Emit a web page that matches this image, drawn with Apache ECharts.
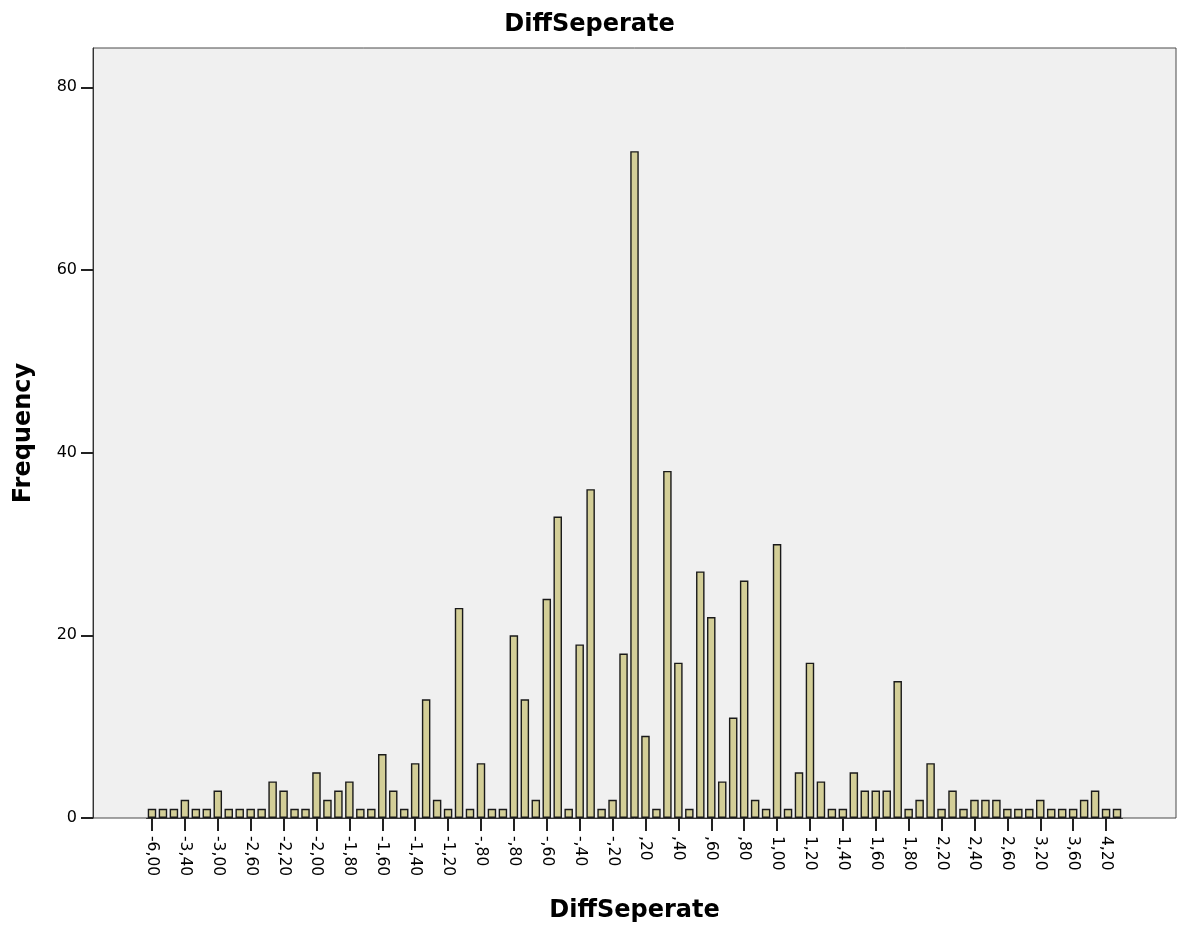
<!DOCTYPE html>
<html>
<head>
<meta charset="utf-8">
<script src="https://cdn.jsdelivr.net/npm/echarts@6/dist/echarts.min.js"></script>
<style>
  html, body { margin: 0; padding: 0; background: #ffffff; }
  #chart { width: 1179px; height: 931px; }
</style>
</head>
<body>
<div id="chart"></div>
<script>
// Tick labels shown under every third bar
const tickLabels = ['-6,00','-3,40','-3,00','-2,60','-2,20','-2,00','-1,80','-1,60','-1,40','-1,20',
  '-,80','-,80','-,60','-,40','-,20',',20',',40',',60',',80','1,00',
  '1,20','1,40','1,60','1,80','2,20','2,40','2,60','3,20','3,60','4,20'];

// Frequency of each distinct value (89 bars, left to right)
const frequencies = [
  1, 1, 1, 2, 1, 1, 3, 1, 1, 1,
  1, 4, 3, 1, 1, 5, 2, 3, 4, 1,
  1, 7, 3, 1, 6, 13, 2, 1, 23, 1,
  6, 1, 1, 20, 13, 2, 24, 33, 1, 19,
  36, 1, 2, 18, 73, 9, 1, 38, 17, 1,
  27, 22, 4, 11, 26, 2, 1, 30, 1, 5,
  17, 4, 1, 1, 5, 3, 3, 3, 15, 1,
  2, 6, 1, 3, 1, 2, 2, 2, 1, 1,
  1, 2, 1, 1, 1, 2, 3, 1, 1
];

const yTicks = [0, 20, 40, 60, 80];

const categories = frequencies.map((_, i) => 'bin' + i);

const FONT = '"DejaVu Sans", Verdana, sans-serif';
const chart = echarts.init(document.getElementById('chart'), null, { renderer: 'canvas' });

chart.setOption({
  backgroundColor: '#ffffff',
  animation: false,
  title: {
    text: 'DiffSeperate',
    left: 'center',
    top: 8,
    textStyle: { fontFamily: FONT, fontSize: 24, fontWeight: 'bold', color: '#000' }
  },
  grid: [
    { left: 93, right: 3, top: 48, bottom: 113, show: true, backgroundColor: '#f0f0f0',
      borderColor: '#4a4a4a', borderWidth: 1, containLabel: false, outerBoundsMode: 'none' },
    { left: 146.5, right: 56.5, top: 48, bottom: 113, containLabel: false, outerBoundsMode: 'none' }
  ],
  xAxis: [
    { type: 'value', gridIndex: 0, min: 0, max: 1, show: false },
    {
      type: 'category', gridIndex: 1, data: categories,
      axisLine: { show: true, onZero: false, lineStyle: { color: '#333', width: 1 } },
      axisTick: {
        show: true, alignWithLabel: true, length: 13,
        interval: (i) => i % 3 === 0,
        lineStyle: { color: '#222', width: 2 }
      },
      axisLabel: {
        rotate: -90, margin: 18,
        interval: (i) => i % 3 === 0,
        formatter: (v, i) => (i % 3 === 0 ? tickLabels[i / 3] : ''),
        fontFamily: FONT, fontSize: 15.5, color: '#000'
      },
      name: 'DiffSeperate', nameLocation: 'middle', nameGap: 81,
      nameTextStyle: { fontFamily: FONT, fontSize: 24, fontWeight: 'bold', color: '#000' }
    }
  ],
  yAxis: [
    {
      type: 'value', gridIndex: 0, min: 0, max: 84.3,
      axisLine: { show: true, lineStyle: { color: '#333', width: 1 } },
      axisTick: { show: true, length: 12, customValues: yTicks, lineStyle: { color: '#222', width: 2 } },
      axisLabel: {
        margin: 16, fontFamily: FONT, fontSize: 16, color: '#000',
        customValues: yTicks
      },
      splitLine: { show: false },
      name: 'Frequency', nameLocation: 'middle', nameGap: 57, nameRotate: 90,
      nameTextStyle: { fontFamily: FONT, fontSize: 24, fontWeight: 'bold', color: '#000' }
    },
    { type: 'value', gridIndex: 1, min: 0, max: 84.3, show: false }
  ],
  series: [{
    type: 'bar',
    xAxisIndex: 1, yAxisIndex: 1,
    data: frequencies,
    barWidth: 8.5,
    itemStyle: { color: '#d3ce97', borderColor: '#1a1a1a', borderWidth: 1.4 }
  }]
});
</script>
</body>
</html>
